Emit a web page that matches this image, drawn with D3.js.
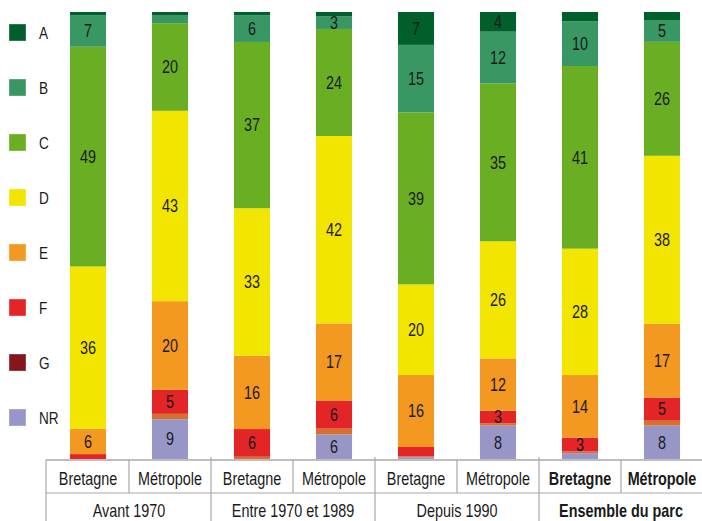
<!DOCTYPE html>
<html>
<head>
<meta charset="utf-8">
<script src="https://cdn.jsdelivr.net/npm/d3@7"></script>
<style>
  html, body { margin: 0; padding: 0; background: #fff; }
  svg { display: block; }
  text { font-family: "Liberation Sans", Arial, sans-serif; fill: #1a1a1a; }
</style>
</head>
<body>
<svg id="chart" width="702" height="521"></svg>
<script>
// ---- Data ----
const categories = ["Bretagne", "Métropole", "Bretagne ", "Métropole ", "Bretagne  ", "Métropole  ", "Bretagne   ", "Métropole   "];
const categoryLabels = ["Bretagne", "Métropole", "Bretagne", "Métropole", "Bretagne", "Métropole", "Bretagne", "Métropole"];
const groups = ["Avant 1970", "Entre 1970 et 1989", "Depuis 1990", "Ensemble du parc"];
const classes = ["A", "B", "C", "D", "E", "F", "G", "NR"];

const valuesA  = [0.7, 0.8, 0.7, 1.0, 7.4, 4.4, 2.1, 1.8];
const valuesB  = [7.1, 1.7, 6.0, 2.8, 15.2, 11.6, 10.0, 4.9];
const valuesC  = [49.3, 19.6, 37.2, 24.0, 38.7, 35.3, 40.9, 25.6];
const valuesD  = [36.4, 42.6, 33.0, 42.0, 20.4, 26.2, 28.3, 37.7];
const valuesE  = [5.7, 19.8, 16.4, 17.3, 16.2, 11.7, 14.0, 16.6];
const valuesF  = [1.1, 5.4, 6.2, 6.3, 2.1, 2.8, 3.1, 5.2];
const valuesG  = [0, 1.2, 0.5, 1.3, 0.2, 0.5, 0.4, 1.1];
const valuesNR = [0, 8.9, 0, 5.5, 0.4, 7.5, 1.3, 7.5];

// ---- Styles ----
const legendColors = { A: "#005f2b", B: "#389763", C: "#69ae23", D: "#f2e500", E: "#f39820", F: "#e42528", G: "#86161e", NR: "#9896c6" };
const barColors = Object.assign({}, legendColors, { G: "#d5712e" });
const SX = 0.8; // horizontal condensing of the text

const seriesByClass = { A: valuesA, B: valuesB, C: valuesC, D: valuesD, E: valuesE, F: valuesF, G: valuesG, NR: valuesNR };
const table = categories.map((c, i) => {
  const row = { cat: c, idx: i };
  classes.forEach(k => row[k] = seriesByClass[k][i]);
  return row;
});

const svg = d3.select("#chart");

const x = d3.scaleBand().domain(categories).range([47, 703]).paddingInner(0.56).paddingOuter(0.28);
const y = d3.scaleLinear().domain([0, 1]).range([459, 12]);

const stack = d3.stack().keys(classes.slice().reverse()).offset(d3.stackOffsetExpand);
const stacked = stack(table);

const layers = svg.append("g").selectAll("g").data(stacked).join("g")
  .attr("fill", d => barColors[d.key]);

layers.selectAll("rect").data(d => d).join("rect")
  .attr("x", d => x(d.data.cat))
  .attr("width", x.bandwidth())
  .attr("y", d => y(d[1]))
  .attr("height", d => Math.max(0, y(d[0]) - y(d[1])));

// value labels
const labelData = [];
stacked.forEach(layer => layer.forEach(p => {
  const v = p.data[layer.key];
  if (v >= 2.5) labelData.push({ cat: p.data.cat, v, mid: (p[0] + p[1]) / 2 });
}));
svg.append("g").selectAll("text").data(labelData).join("text")
  .attr("transform", d => `translate(${x(d.cat) + x.bandwidth() / 2},${y(d.mid)}) scale(${SX},1)`)
  .attr("dy", "0.35em")
  .attr("text-anchor", "middle")
  .style("font-size", "18px")
  .text(d => Math.round(d.v));

// ---- Legend ----
const legendY = d3.scalePoint().domain(classes).range([33, 418]);
const legend = svg.append("g").selectAll("g").data(classes).join("g")
  .attr("transform", d => `translate(0,${legendY(d)})`);
legend.append("rect")
  .attr("x", 9).attr("y", -9).attr("width", 17).attr("height", 17)
  .attr("fill", d => legendColors[d])
  .attr("stroke", "rgba(255,255,255,0.35)").attr("stroke-width", 1);
legend.append("text")
  .attr("transform", `translate(39,0) scale(${SX},1)`)
  .attr("dy", "0.35em")
  .style("font-size", "17px")
  .text(d => d);

// ---- Category axis (table style) ----
const lineColor = "#a8a8a8";
const step = x.step();
const left = 46, right = 702, yTop = 460, yMid = 493, yBot = 521;
const axisG = svg.append("g");
axisG.append("line").attr("x1", left).attr("x2", right).attr("y1", yTop).attr("y2", yTop)
  .attr("stroke", lineColor).attr("stroke-width", 1.5);
axisG.append("line").attr("x1", left).attr("x2", right).attr("y1", yMid).attr("y2", yMid)
  .attr("stroke", lineColor).attr("stroke-width", 1.2);
axisG.append("line").attr("x1", left).attr("x2", left).attr("y1", yTop).attr("y2", yBot)
  .attr("stroke", lineColor).attr("stroke-width", 1.2);
categories.forEach((c, i) => {
  if (i === 0) return;
  const bx = x(c) - (step - x.bandwidth()) / 2;
  const isGroup = i % 2 === 0;
  axisG.append("line").attr("x1", bx).attr("x2", bx)
    .attr("y1", isGroup ? yTop - 3 : yTop).attr("y2", isGroup ? yBot : yMid)
    .attr("stroke", lineColor).attr("stroke-width", 1.2);
});

const xAxis = d3.axisBottom(x).tickSize(0).tickPadding(0).tickFormat((d, i) => categoryLabels[i]);
const axisCat = svg.append("g").attr("transform", `translate(0,${yTop})`).call(xAxis);
axisCat.select(".domain").remove();
axisCat.selectAll("text")
  .attr("y", null).attr("dy", null)
  .attr("transform", `translate(0,25) scale(${SX},1)`)
  .style("font-size", "18px")
  .style("font-family", '"Liberation Sans", Arial, sans-serif')
  .style("fill", "#1a1a1a")
  .style("font-weight", (d, i) => i >= 6 ? "bold" : "normal");

svg.append("g").selectAll("text").data(groups).join("text")
  .attr("transform", (g, i) => `translate(${(x(categories[2 * i]) + x(categories[2 * i + 1]) + x.bandwidth()) / 2},517) scale(${SX},1)`)
  .attr("text-anchor", "middle")
  .style("font-size", "18px")
  .style("font-weight", (g, i) => i === 3 ? "bold" : "normal")
  .text(g => g);
</script>
</body>
</html>
